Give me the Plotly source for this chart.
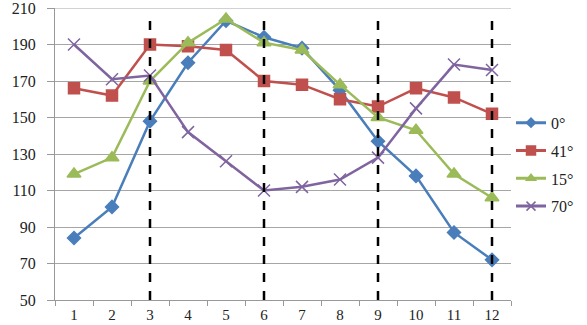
import plotly.graph_objects as go

# Months on the category axis
months = [str(m) for m in range(1, 13)]

# Series values per month
deg0 = [84, 101, 148, 180, 203, 194, 188, 165, 137, 118, 87, 72]
deg41 = [166, 162, 190, 189, 187, 170, 168, 160, 156, 166, 161, 152]
deg15 = [119, 128, 170, 191, 204, 191, 187, 168, 150, 143, 119, 106]
deg70 = [190, 171, 173, 142, 126, 110, 112, 116, 128, 155, 179, 176]

# Months marked with vertical dashed separators
marked_months = ["3", "6", "9", "12"]
marker_span = [50, 204]

y_ticks = [50, 70, 90, 110, 130, 150, 170, 190, 210]

# name, values, colour, symbol, plot marker size, legend marker size
series = [
    ("0°", deg0, "#4A7EBB", "diamond", 10, 7),
    ("41°", deg41, "#C0504D", "square", 11, 9),
    ("15°", deg15, "#9BBB59", "triangle-up", 12, 8),
    ("70°", deg70, "#7F64A0", "x-thin-open", 12, 9),
]

fig = go.Figure()
for i, (name, vals, color, symbol, size, lsize) in enumerate(series):
    fig.add_trace(go.Scatter(
        x=months, y=vals, name=name, mode="lines+markers",
        showlegend=False, legendgroup=f"g{i}",
        line=dict(color=color, width=2.5),
        marker=dict(symbol=symbol, size=size, color=color,
                    line=dict(color=color, width=1.5)),
    ))

for m in marked_months:
    fig.add_trace(go.Scatter(
        x=[m, m], y=marker_span, mode="lines", showlegend=False,
        hoverinfo="skip",
        line=dict(color="black", width=2.5, dash="dash"),
    ))

# Legend entries with compact markers
for i, (name, vals, color, symbol, size, lsize) in enumerate(series):
    fig.add_trace(go.Scatter(
        x=[None], y=[None], name=name, mode="lines+markers",
        legendgroup=f"g{i}",
        line=dict(color=color, width=3),
        marker=dict(symbol=symbol, size=lsize, color=color,
                    line=dict(color=color, width=1.5)),
    ))

# Top gridline at the upper end of the value axis
fig.add_shape(type="line", xref="paper", yref="y", x0=0, x1=1,
              y0=y_ticks[-1], y1=y_ticks[-1], layer="below",
              line=dict(color="#A6A6A6", width=1))

serif = "'Times New Roman', 'Liberation Serif', serif"

fig.update_layout(
    width=587, height=325,
    margin=dict(l=55, r=76, t=8, b=25, autoexpand=False),
    paper_bgcolor="white", plot_bgcolor="white",
    font=dict(family=serif, size=16, color="#222"),
    legend=dict(
        x=1.0, xanchor="left", y=0.665, yanchor="top",
        font=dict(family=serif, size=16, color="#222"),
        tracegroupgap=4, itemwidth=30,
        bgcolor="rgba(0,0,0,0)",
    ),
    xaxis=dict(
        type="category", categoryorder="array", categoryarray=months,
        range=[-0.5, len(months) - 0.5],
        tickson="boundaries", ticks="outside", ticklen=5,
        tickcolor="#999", showline=True, linecolor="#999", linewidth=1,
        showgrid=False, zeroline=False, ticklabelstandoff=1,
        automargin=False,
        tickfont=dict(family=serif, size=15, color="#222"),
    ),
    yaxis=dict(
        range=[50, 210], tickvals=y_ticks, ticks="outside", ticklen=7,
        tickcolor="#999", showline=True, linecolor="#999", linewidth=1,
        showgrid=True, gridcolor="#A6A6A6", gridwidth=1, zeroline=False,
        ticklabelstandoff=8, ticklabeloverflow="allow", automargin=False,
        tickfont=dict(family=serif, size=16, color="#222"),
    ),
)

fig.write_html("out.html")
